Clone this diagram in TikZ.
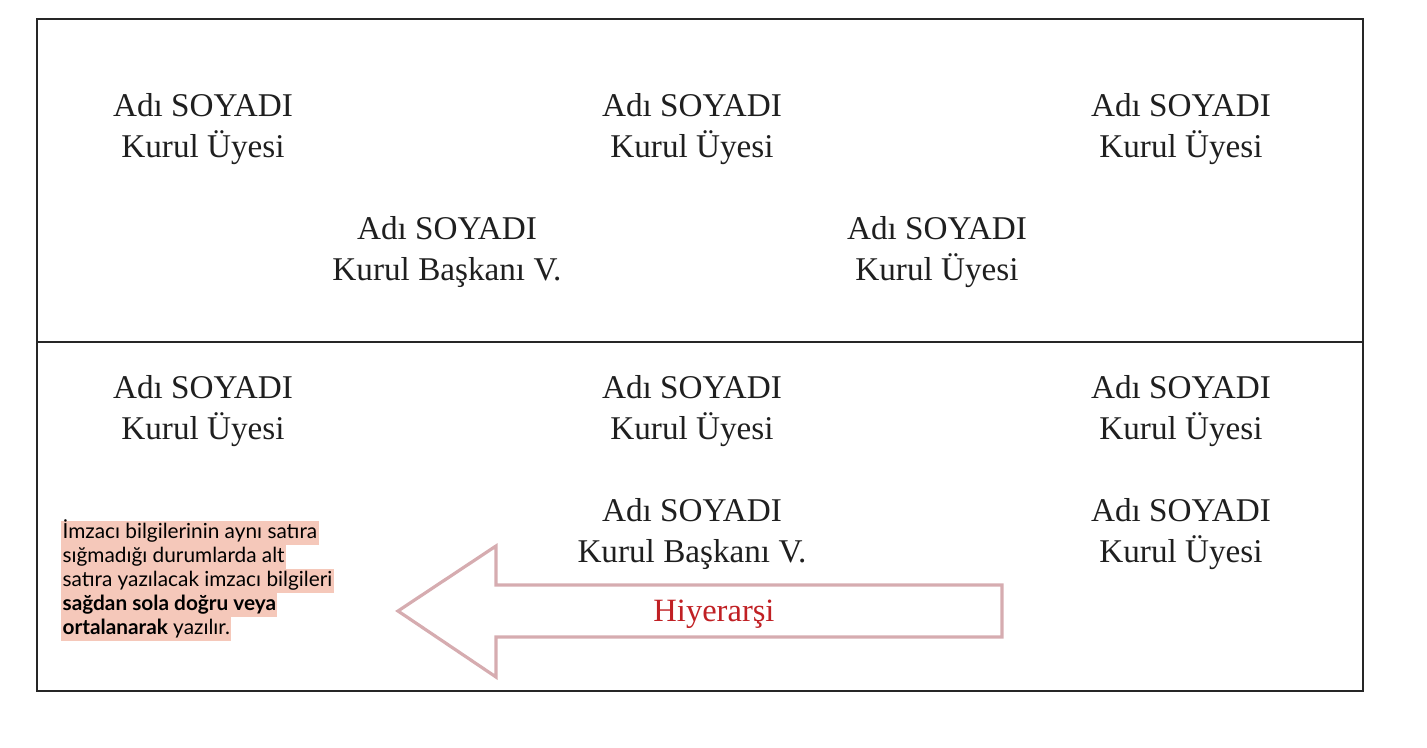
\documentclass[tikz,border=0pt]{standalone}
\usepackage{fontspec}
\setmainfont{Liberation Serif}
\newfontfamily\notefont{Lato}
\definecolor{hl}{RGB}{245,200,186}
\definecolor{arrowc}{RGB}{214,172,176}
\definecolor{hred}{RGB}{192,32,36}
\begin{document}
\begin{tikzpicture}[x=0.75pt,y=-0.75pt,
  sig/.style={align=center,font=\fontsize{24.9}{30.75}\selectfont,inner sep=0pt,text=black!88},
  noteline/.style={anchor=west,fill=hl,font=\notefont\fontsize{15.6}{18}\selectfont,inner xsep=1pt,inner ysep=1.5pt,text height=11.5pt,text depth=3.5pt},
  frame/.style={line width=1.6pt,draw=black!85}]
\useasboundingbox (0,0) rectangle (1427,748);
\draw[frame] (37,19) rectangle (1363,691);
\draw[frame] (37,342) -- (1363,342);
% upper box
\node[sig] (u1) at (203,129) {Adı SOYADI\\Kurul Üyesi};
\node[sig] (u2) at (692,129) {Adı SOYADI\\Kurul Üyesi};
\node[sig] (u3) at (1181,129) {Adı SOYADI\\Kurul Üyesi};
\node[sig] (u4) at (447,252) {Adı SOYADI\\Kurul Başkanı V.};
\node[sig] (u5) at (937,252) {Adı SOYADI\\Kurul Üyesi};
% lower box
\node[sig] (l1) at (203,411) {Adı SOYADI\\Kurul Üyesi};
\node[sig] (l2) at (692,411) {Adı SOYADI\\Kurul Üyesi};
\node[sig] (l3) at (1181,411) {Adı SOYADI\\Kurul Üyesi};
\node[sig] (l4) at (692,534) {Adı SOYADI\\Kurul Başkanı V.};
\node[sig] (l5) at (1181,534) {Adı SOYADI\\Kurul Üyesi};
% arrow
\draw[draw=arrowc,line width=2.4pt,line join=miter]
  (1002,585) -- (496,585) -- (496,546) -- (398,611) -- (496,677) -- (496,637) -- (1002,637) -- cycle;
\node[font=\fontsize{24.4}{30}\selectfont,text=hred,inner sep=0pt] (h) at (714,614) {Hiyerarşi};
% note
\node[noteline] (n1) at (61,533) {İmzacı bilgilerinin aynı satıra};
\node[noteline] (n2) at (61,557) {sığmadığı durumlarda alt};
\node[noteline] (n3) at (61,581) {satıra yazılacak imzacı bilgileri};
\node[noteline] (n4) at (61,605) {\bfseries sağdan sola doğru veya};
\node[noteline] (n5) at (61,629) {\textbf{ortalanarak} yazılır.};
\end{tikzpicture}
\end{document}
